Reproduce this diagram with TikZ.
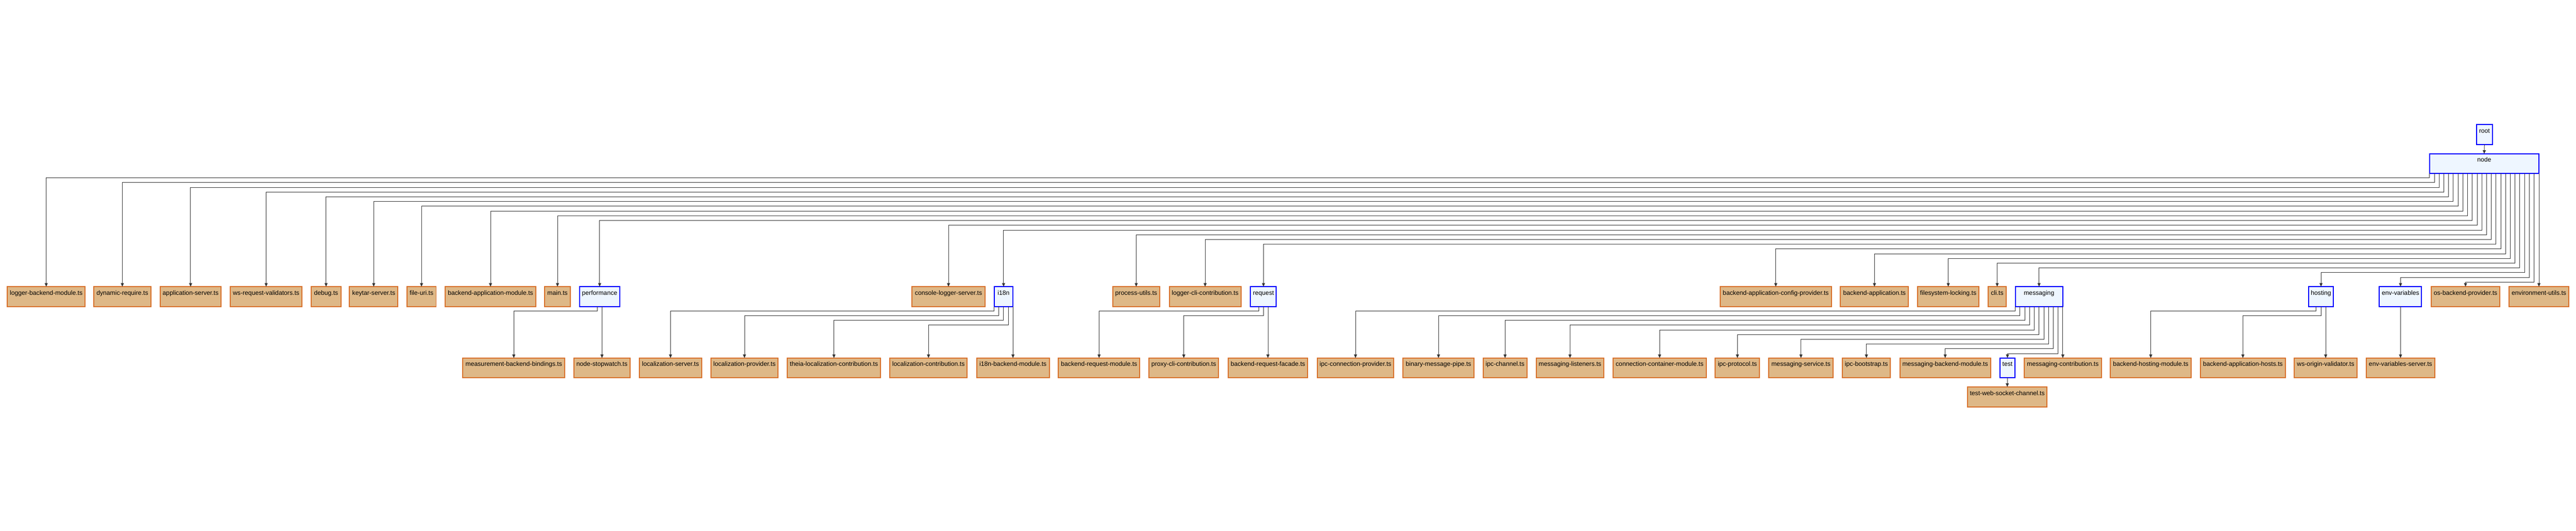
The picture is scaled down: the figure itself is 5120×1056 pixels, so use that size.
\documentclass[tikz,border=0pt]{standalone}
\usepackage{fontspec}
\setmainfont{Liberation Sans}
\usetikzlibrary{arrows.meta,calc}
\definecolor{filefill}{HTML}{DEB887}
\definecolor{fileline}{HTML}{D8702A}
\definecolor{dirfill}{HTML}{EEF6FF}
\definecolor{dirline}{HTML}{0000FF}
\definecolor{edgecol}{HTML}{333333}
\newcommand\lblfont{\fontsize{12.5}{14}\selectfont}
\tikzset{
  filebox/.style={draw=fileline, fill=filefill, line width=2pt, inner sep=0pt, outer sep=0pt,
    minimum height=39.5pt, text height=16.5pt, text depth=23pt, anchor=north west, font=\lblfont},
  dirbox/.style={filebox, draw=dirline, fill=dirfill},
  edge/.style={draw=edgecol, line width=1pt, -{Triangle[length=7pt,width=6pt]}},
}
% #1 style, #2 name, #3 left, #4 right, #5 top, #6 label
\newcommand\mkbox[6]{\node[#1, minimum width={#4-#3}] (#2) at (#3,#5) {#6};}
% bent edge: #1 parent, #2 x offset of drop from parent centre, #3 y of horizontal run, #4 child
\newcommand\bentedge[4]{%
  \pgfmathsetmacro\dx{#2}\pgfmathsetmacro\hy{#3}%
  \draw[edge] ($(#1.south)+(\dx,0)$) |- (#4.north |- 0,\hy) -- (#4.north);}
\newcommand\straightedge[2]{\draw[edge] (#2.north |- #1.south) -- (#2.north);}
\begin{document}
\begin{tikzpicture}[x=1pt,y=-1pt]
\useasboundingbox[fill=white] (0,0) rectangle (5120,1056);
% top
\mkbox{dirbox}{root}{4922}{4954}{248}{root}
\mkbox{dirbox}{nd}{4829}{5046}{306}{node}
% level 1
\mkbox{filebox}{a1}{14.4}{169.3}{570.5}{logger-backend-module.ts}
\mkbox{filebox}{a2}{186.6}{299.7}{570.5}{dynamic-require.ts}
\mkbox{filebox}{a3}{318}{439.7}{570.5}{application-server.ts}
\mkbox{filebox}{a4}{457.5}{600.5}{570.5}{ws-request-validators.ts}
\mkbox{filebox}{a5}{618.8}{677.4}{570.5}{debug.ts}
\mkbox{filebox}{a6}{694.6}{791}{570.5}{keytar-server.ts}
\mkbox{filebox}{a7}{808.8}{866.8}{570.5}{file-uri.ts}
\mkbox{filebox}{a8}{884.6}{1065.2}{570.5}{backend-application-module.ts}
\mkbox{filebox}{a9}{1082.8}{1133.3}{570.5}{main.ts}
\mkbox{dirbox}{a10}{1151.7}{1232}{570.5}{performance}
\mkbox{filebox}{a11}{1812.9}{1957.5}{570.5}{console-logger-server.ts}
\mkbox{dirbox}{a12}{1975.9}{2013.4}{570.5}{i18n}
\mkbox{filebox}{a13}{2211.6}{2305}{570.5}{process-utils.ts}
\mkbox{filebox}{a14}{2324}{2466.5}{570.5}{logger-cli-contribution.ts}
\mkbox{dirbox}{a15}{2485.6}{2536.9}{570.5}{request}
\mkbox{filebox}{a16}{3418.8}{3640.1}{570.5}{backend-application-config-provider.ts}
\mkbox{filebox}{a17}{3658}{3793.2}{570.5}{backend-application.ts}
\mkbox{filebox}{a18}{3811}{3933.5}{570.5}{filesystem-locking.ts}
\mkbox{filebox}{a19}{3952}{3987}{570.5}{cli.ts}
\mkbox{dirbox}{a20}{4005.5}{4100}{570.5}{messaging}
\mkbox{dirbox}{a21}{4588.3}{4638}{570.5}{hosting}
\mkbox{dirbox}{a22}{4729.2}{4813.1}{570.5}{env-variables}
\mkbox{filebox}{a23}{4832.3}{4968.4}{570.5}{os-backend-provider.ts}
\mkbox{filebox}{a24}{4987}{5105.6}{570.5}{environment-utils.ts}
% level 2
\mkbox{filebox}{p1}{919.8}{1122.6}{712.5}{measurement-backend-bindings.ts}
\mkbox{filebox}{p2}{1141}{1251.9}{712.5}{node-stopwatch.ts}
\mkbox{filebox}{i1}{1271}{1394.3}{712.5}{localization-server.ts}
\mkbox{filebox}{i2}{1412.7}{1546.6}{712.5}{localization-provider.ts}
\mkbox{filebox}{i3}{1564.9}{1750.1}{712.5}{theia-localization-contribution.ts}
\mkbox{filebox}{i4}{1768.5}{1922.4}{712.5}{localization-contribution.ts}
\mkbox{filebox}{i5}{1941.2}{2085.5}{712.5}{i18n-backend-module.ts}
\mkbox{filebox}{r1}{2103.5}{2265.5}{712.5}{backend-request-module.ts}
\mkbox{filebox}{r2}{2283.6}{2422.1}{712.5}{proxy-cli-contribution.ts}
\mkbox{filebox}{r3}{2441.2}{2598.9}{712.5}{backend-request-facade.ts}
\mkbox{filebox}{m1}{2618}{2770.3}{712.5}{ipc-connection-provider.ts}
\mkbox{filebox}{m2}{2788.7}{2929.5}{712.5}{binary-message-pipe.ts}
\mkbox{filebox}{m3}{2947.8}{3035}{712.5}{ipc-channel.ts}
\mkbox{filebox}{m4}{3053.5}{3187.4}{712.5}{messaging-listeners.ts}
\mkbox{filebox}{m5}{3205.7}{3391.4}{712.5}{connection-container-module.ts}
\mkbox{filebox}{m6}{3409.2}{3497.2}{712.5}{ipc-protocol.ts}
\mkbox{filebox}{m7}{3515.7}{3643.3}{712.5}{messaging-service.ts}
\mkbox{filebox}{m8}{3661.8}{3757.4}{712.5}{ipc-bootstrap.ts}
\mkbox{filebox}{m9}{3776}{3956.4}{712.5}{messaging-backend-module.ts}
\mkbox{dirbox}{m10}{3975}{4004.9}{712.5}{test}
\mkbox{filebox}{m11}{4023.4}{4176.5}{712.5}{messaging-contribution.ts}
\mkbox{filebox}{h1}{4194.4}{4355}{712.5}{backend-hosting-module.ts}
\mkbox{filebox}{h2}{4373}{4542.7}{712.5}{backend-application-hosts.ts}
\mkbox{filebox}{h3}{4560}{4684.8}{712.5}{ws-origin-validator.ts}
\mkbox{filebox}{e1}{4702.8}{4839.5}{712.5}{env-variables-server.ts}
% level 3
\mkbox{filebox}{t1}{3910.5}{4068.7}{770}{test-web-socket-channel.ts}
% edges
\draw[edge] (root.south) -- (nd.north);
\foreach \i/\c in {0/a1,1/a2,2/a3,3/a4,4/a5,5/a6,6/a7,7/a8,8/a9,9/a10,10/a11,11/a12,
  12/a13,13/a14,14/a15,15/a16,16/a17,17/a18,18/a19,19/a20,20/a21,21/a22,22/a23}{
  \bentedge{nd}{(\i-11.5)*9.43}{354+9.43*\i}{\c}
}
\straightedge{nd}{a24}
% performance
\bentedge{a10}{-4.7}{618.7}{p1}
\straightedge{a10}{p2}
% i18n
\foreach \i/\c in {0/i1,1/i2,2/i3,3/i4}{\bentedge{a12}{(\i-2)*9.43}{618.7+9.43*\i}{\c}}
\straightedge{a12}{i5}
% request
\foreach \i/\c in {0/r1,1/r2}{\bentedge{a15}{(\i-1)*9.43}{618.7+9.43*\i}{\c}}
\straightedge{a15}{r3}
% messaging
\foreach \i/\c in {0/m1,1/m2,2/m3,3/m4,4/m5,5/m6,6/m7,7/m8,8/m9,9/m10}{
  \bentedge{a20}{(\i-5)*9.43}{618.7+9.43*\i}{\c}
}
\straightedge{a20}{m11}
% hosting
\foreach \i/\c in {0/h1,1/h2}{\bentedge{a21}{(\i-1)*9.43}{618.7+9.43*\i}{\c}}
\straightedge{a21}{h3}
% env-variables
\straightedge{a22}{e1}
% test
\straightedge{m10}{t1}
\end{tikzpicture}
\end{document}
